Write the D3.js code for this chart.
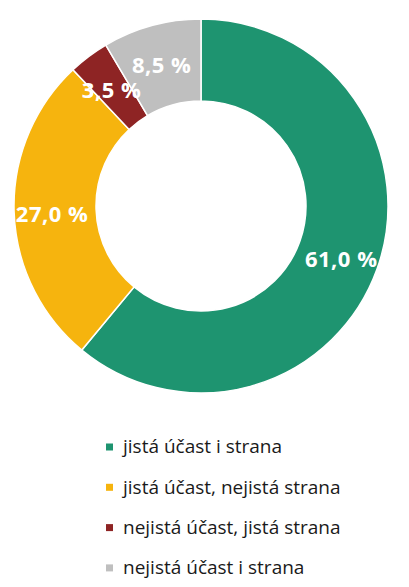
<!DOCTYPE html>
<html>
<head>
<meta charset="utf-8">
<script src="https://cdn.jsdelivr.net/npm/d3@7"></script>
<style>
  body { margin: 0; background: #fff; }
  svg { display: block; }
</style>
</head>
<body>
<script>
(function(){

//chart data
var categories = ["jistá účast i strana", "jistá účast, nejistá strana", "nejistá účast, jistá strana", "nejistá účast i strana"];
var values = [61.0, 27.0, 3.5, 8.5];
var colors = ["#1E9470", "#F6B40E", "#8E2424", "#BFBFBF"];

var width = 409, height = 587;
var cx = 201, cy = 206, outerR = 187, innerR = 105;

var svg = d3.select("body").append("svg")
    .attr("width", width)
    .attr("height", height);

var data = categories.map(function(c, i){
    return {name: c, value: values[i], color: colors[i]};
});

//pie layout, clockwise from 12 o'clock, keep order
var pie = d3.pie()
    .sort(null)
    .value(function(d){ return d.value; });

var arc = d3.arc()
    .innerRadius(innerR)
    .outerRadius(outerR);

var labelArc = d3.arc()
    .innerRadius(innerR + 1)
    .outerRadius(outerR + 5);

var g = svg.append("g")
    .attr("transform", "translate(" + cx + "," + cy + ")");

var arcs = pie(data);

g.selectAll(".slice")
    .data(arcs)
    .enter()
    .append("path")
    .attr("class", "slice")
    .attr("d", arc)
    .style("fill", function(d){ return d.data.color; })
    .style("stroke", "#fff")
    .style("stroke-width", 1.5);

//percentage labels
g.selectAll(".label")
    .data(arcs)
    .enter()
    .append("text")
    .attr("class", "label")
    .attr("transform", function(d){ return "translate(" + labelArc.centroid(d) + ")"; })
    .attr("text-anchor", "middle")
    .attr("dy", "0.5em")
    .style("font-family", "'Open Sans', sans-serif")
    .style("font-weight", "bold")
    .style("font-size", "22px")
    .style("letter-spacing", "0.5px")
    .style("fill", "#fff")
    .text(function(d){ return d.data.value.toFixed(1).replace(".", ",") + " %"; });

//legend
var legend = svg.append("g")
    .attr("transform", "translate(106,447)");

var rows = legend.selectAll(".row")
    .data(data)
    .enter()
    .append("g")
    .attr("class", "row")
    .attr("transform", function(d, i){ return "translate(0," + (i * 40.3) + ")"; });

rows.append("rect")
    .attr("x", 0)
    .attr("y", -3.5)
    .attr("width", 7)
    .attr("height", 7)
    .style("fill", function(d){ return d.color; });

rows.append("text")
    .attr("x", 17)
    .attr("dy", "0.33em")
    .style("font-family", "'Open Sans', sans-serif")
    .style("font-size", "19px")
    .style("fill", "#1a1a1a")
    .text(function(d){ return d.name; });

})();
</script>
</body>
</html>
